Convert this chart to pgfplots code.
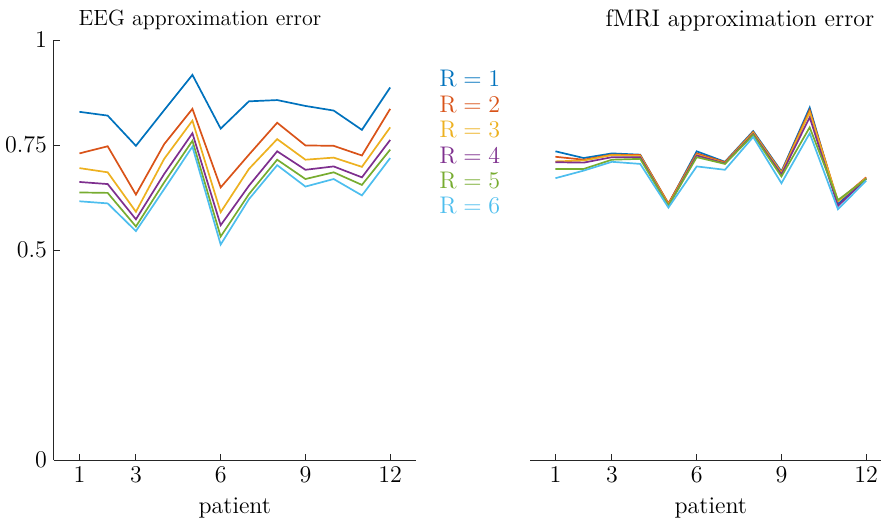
\documentclass[border=0pt]{standalone}
\usepackage{pgfplots}
\pgfplotsset{compat=1.18}
\usepackage{pgfplotstable}
\definecolor{mc1}{rgb}{0,0.447,0.741}
\definecolor{mc2}{rgb}{0.85,0.325,0.098}
\definecolor{mc3}{rgb}{0.929,0.694,0.125}
\definecolor{mc4}{rgb}{0.494,0.184,0.556}
\definecolor{mc5}{rgb}{0.466,0.674,0.188}
\definecolor{mc6}{rgb}{0.301,0.745,0.933}
\pgfplotstableread{
p r1 r2 r3 r4 r5 r6
1 0.829 0.730 0.695 0.662 0.637 0.616
2 0.820 0.747 0.685 0.657 0.636 0.611
3 0.748 0.632 0.591 0.573 0.556 0.545
4 0.833 0.752 0.717 0.681 0.661 0.645
5 0.917 0.836 0.808 0.778 0.760 0.746
6 0.789 0.649 0.590 0.559 0.532 0.513
7 0.854 0.727 0.693 0.653 0.633 0.621
8 0.857 0.803 0.764 0.735 0.715 0.702
9 0.843 0.749 0.715 0.691 0.669 0.651
10 0.832 0.748 0.720 0.699 0.685 0.669
11 0.786 0.725 0.698 0.673 0.655 0.630
12 0.887 0.836 0.792 0.762 0.739 0.719
}\eegtable
\pgfplotstableread{
p r1 r2 r3 r4 r5 r6
1 0.735 0.722 0.711 0.709 0.693 0.671
2 0.719 0.715 0.713 0.708 0.693 0.689
3 0.730 0.727 0.726 0.721 0.715 0.710
4 0.727 0.726 0.724 0.721 0.717 0.705
5 0.609 0.611 0.608 0.605 0.605 0.601
6 0.735 0.730 0.727 0.725 0.721 0.699
7 0.710 0.709 0.707 0.706 0.705 0.691
8 0.783 0.781 0.779 0.776 0.774 0.769
9 0.687 0.685 0.683 0.680 0.675 0.659
10 0.839 0.833 0.828 0.816 0.792 0.778
11 0.609 0.616 0.616 0.605 0.619 0.597
12 0.671 0.673 0.671 0.669 0.669 0.665
}\fmritable
\pgfplotsset{
  myaxis/.style={
    scale only axis, width=180.8pt, height=210pt,
    xmin=0.1, xmax=12.9, ymin=0, ymax=1,
    xtick={1,3,6,9,12},
    axis line style={black!85, line width=0.5pt},
    tick style={black!85, line width=0.5pt},
    tick align=inside, major tick length=3pt,
    ticklabel style={font=\large},
    label style={font=\large},
    xlabel={patient},
    xlabel style={yshift=-1pt},
    every axis plot/.append style={line width=0.85pt},
  }
}
\begin{document}
\begin{tikzpicture}
\useasboundingbox (-27pt,-33pt) rectangle (413.5pt,230pt);
\clip (-27pt,-33pt) rectangle (413.5pt,230pt);
\begin{axis}[myaxis, name=left, at={(0pt,0pt)}, anchor=origin,
  axis x line*=bottom, axis y line*=left,
  ytick={0,0.5,0.75,1}, yticklabels={0,0.5,0.75,1},
  legend style={draw=none, fill=none, at={(1.04,0.945)}, anchor=north west, font=\large, row sep=0pt, nodes={inner sep=1.5pt}},
  legend cell align=left,
  legend image code/.code={},
]
\addplot[mc1] table[x=p,y=r1] {\eegtable};
\addplot[mc2] table[x=p,y=r2] {\eegtable};
\addplot[mc3] table[x=p,y=r3] {\eegtable};
\addplot[mc4] table[x=p,y=r4] {\eegtable};
\addplot[mc5] table[x=p,y=r5] {\eegtable};
\addplot[mc6] table[x=p,y=r6] {\eegtable};
\addlegendentry{\textcolor{mc1}{$\mathrm{R} = 1$}}
\addlegendentry{\textcolor{mc2}{$\mathrm{R} = 2$}}
\addlegendentry{\textcolor{mc3}{$\mathrm{R} = 3$}}
\addlegendentry{\textcolor{mc4}{$\mathrm{R} = 4$}}
\addlegendentry{\textcolor{mc5}{$\mathrm{R} = 5$}}
\addlegendentry{\textcolor{mc6}{$\mathrm{R} = 6$}}
\end{axis}
\begin{axis}[myaxis, name=right, at={(238pt,0pt)}, anchor=origin,
  axis x line*=bottom, axis y line=none, ytick=\empty,
]
\addplot[mc1] table[x=p,y=r1] {\fmritable};
\addplot[mc2] table[x=p,y=r2] {\fmritable};
\addplot[mc3] table[x=p,y=r3] {\fmritable};
\addplot[mc4] table[x=p,y=r4] {\fmritable};
\addplot[mc5] table[x=p,y=r5] {\fmritable};
\addplot[mc6] table[x=p,y=r6] {\fmritable};
\end{axis}
\node[font=\fontsize{11}{13}\selectfont, anchor=base] at (73pt,217.3pt) {EEG approximation error};
\node[font=\large, anchor=base] at (343pt,217pt) {fMRI approximation error};
\end{tikzpicture}
\end{document}
